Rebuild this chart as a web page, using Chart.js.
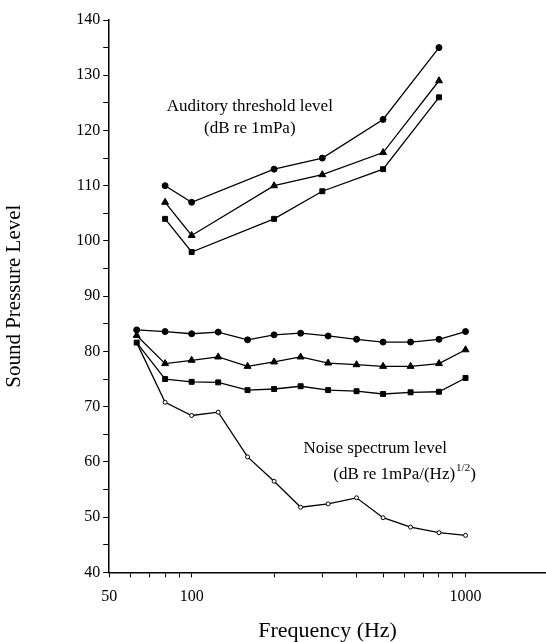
<!DOCTYPE html>
<html>
<head>
    <title>Sound Pressure Level vs Frequency</title>
    <script src="https://cdn.jsdelivr.net/npm/chart.js"></script>
    <style>
        body { margin: 0; background: #fff; }
        .chart-container { width: 546px; height: 642px; }
    </style>
</head>
<body>
    <div class="chart-container">
        <canvas id="splChart"></canvas>
    </div>

    <script>
        // data
        const thresholdFreq = [80, 100, 200, 300, 500, 800];
        const thresholdCircle = [110, 107, 113, 115, 122, 135];
        const thresholdTriangle = [107, 101, 110, 112, 116, 129];
        const thresholdSquare = [104, 98, 104, 109, 113, 126];

        const bandFreq = [63, 80, 100, 125, 160, 200, 250, 315, 400, 500, 630, 800, 1000];
        const noiseCircle = [83.9, 83.6, 83.2, 83.5, 82.1, 83.0, 83.3, 82.8, 82.2, 81.7, 81.7, 82.2, 83.6];
        const noiseTriangle = [82.9, 77.8, 78.4, 79.0, 77.3, 78.1, 79.0, 77.9, 77.6, 77.3, 77.3, 77.8, 80.3];
        const noiseSquare = [81.6, 75.0, 74.5, 74.4, 73.0, 73.2, 73.7, 73.0, 72.8, 72.3, 72.6, 72.7, 75.2];
        const noiseSpectrum = [81.6, 70.8, 68.4, 69.0, 60.9, 56.5, 51.8, 52.4, 53.5, 49.9, 48.2, 47.2, 46.7];

        const xTicks = [50, 60, 70, 80, 90, 100, 200, 300, 400, 500, 600, 700, 800, 900, 1000];
        const xLabels = [50, 100, 1000];
        const yTicks = [40, 45, 50, 55, 60, 65, 70, 75, 80, 85, 90, 95, 100, 105, 110, 115, 120, 125, 130, 135, 140];

        const serif = "'Liberation Serif', 'DejaVu Serif', serif";

        function pts(xs, ys) {
            return xs.map((x, i) => ({ x: x, y: ys[i] }));
        }

        function series(label, xs, ys, style, radius, fill) {
            return {
                label: label,
                data: pts(xs, ys),
                borderColor: '#000',
                borderWidth: 1.3,
                pointStyle: style,
                pointRadius: radius,
                pointBackgroundColor: fill,
                pointBorderColor: '#000',
                pointBorderWidth: 1,
                tension: 0
            };
        }

        // text labels placed in data coordinates
        const notes = {
            id: 'notes',
            afterDatasetsDraw(chart) {
                const c = chart.ctx;
                const x = chart.scales.x, y = chart.scales.y;
                c.save();
                c.fillStyle = '#000';
                c.font = '17px ' + serif;
                c.textBaseline = 'middle';
                c.textAlign = 'center';
                c.fillText('Auditory threshold level', x.getPixelForValue(163), y.getPixelForValue(124.4));
                c.fillText('(dB re 1mPa)', x.getPixelForValue(163), y.getPixelForValue(120.3));

                c.textAlign = 'left';
                c.fillText('Noise spectrum level', x.getPixelForValue(256), y.getPixelForValue(62.4));
                let px = x.getPixelForValue(329);
                const py = y.getPixelForValue(57.7);
                const s1 = '(dB re 1mPa/(Hz)';
                c.fillText(s1, px, py);
                px += c.measureText(s1).width;
                c.font = '11px ' + serif;
                c.fillText('1/2', px + 1, py - 7);
                px += c.measureText('1/2').width + 1;
                c.font = '17px ' + serif;
                c.fillText(')', px, py);
                c.restore();
            }
        };

        const ctx = document.getElementById('splChart').getContext('2d');
        const chart = new Chart(ctx, {
            type: 'line',
            data: {
                datasets: [
                    series('Threshold 1', thresholdFreq, thresholdCircle, 'circle', 3, '#000'),
                    series('Threshold 2', thresholdFreq, thresholdTriangle, 'triangle', 4, '#000'),
                    series('Threshold 3', thresholdFreq, thresholdSquare, 'rect', 3.5, '#000'),
                    series('Noise 1', bandFreq, noiseCircle, 'circle', 3, '#000'),
                    series('Noise 2', bandFreq, noiseTriangle, 'triangle', 4, '#000'),
                    series('Noise 3', bandFreq, noiseSquare, 'rect', 3.5, '#000'),
                    series('Noise spectrum', bandFreq, noiseSpectrum, 'circle', 2, '#fff')
                ]
            },
            options: {
                responsive: true,
                maintainAspectRatio: false,
                animation: false,
                layout: { autoPadding: false, padding: { top: 20, right: 0, bottom: -2, left: 2 } },
                plugins: {
                    legend: { display: false },
                    tooltip: { enabled: false }
                },
                scales: {
                    x: {
                        type: 'logarithmic',
                        min: 50,
                        max: 1967,
                        afterBuildTicks: (axis) => { axis.ticks = xTicks.map(v => ({ value: v })); },
                        afterFit: (axis) => { axis.paddingRight = 0; },
                        ticks: {
                            autoSkip: false,
                            maxRotation: 0,
                            color: '#000',
                            padding: 10,
                            font: { family: serif, size: 16 },
                            callback: (v) => xLabels.includes(v) ? String(v) : ''
                        },
                        grid: { drawOnChartArea: false, color: '#000', tickLength: 5 },
                        border: { color: '#000', width: 1.5 },
                        title: {
                            display: true,
                            text: 'Frequency (Hz)',
                            color: '#000',
                            font: { family: serif, size: 22 },
                            padding: { top: 1, bottom: 0 }
                        }
                    },
                    y: {
                        type: 'linear',
                        min: 40,
                        max: 140,
                        afterBuildTicks: (axis) => { axis.ticks = yTicks.map(v => ({ value: v })); },
                        ticks: {
                            autoSkip: false,
                            color: '#000',
                            padding: 3,
                            font: { family: serif, size: 16 },
                            callback: (v) => v % 10 === 0 ? String(v) : ''
                        },
                        grid: { drawOnChartArea: false, color: '#000', tickLength: 6 },
                        border: { color: '#000', width: 1.5 },
                        title: {
                            display: true,
                            text: 'Sound Pressure Level',
                            color: '#000',
                            font: { family: serif, size: 21 },
                            padding: { top: 0, bottom: 46 }
                        }
                    }
                }
            },
            plugins: [notes]
        });
    </script>
</body>
</html>
